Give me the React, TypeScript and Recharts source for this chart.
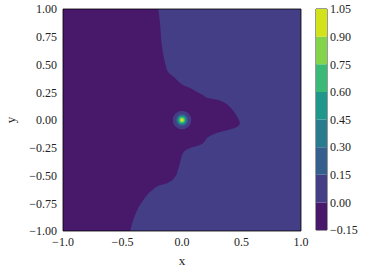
import {
    ComposedChart,
    BarChart,
    Area,
    Bar,
    Scatter,
    XAxis,
    YAxis,
    CartesianGrid,
    ReferenceArea,
    Label,
} from "recharts"

// contour levels and band colours (viridis, 8 bands)
const levels = [-0.15, 0, 0.15, 0.3, 0.45, 0.6, 0.75, 0.9, 1.05]
const bandColors = [
    "#48186a",
    "#433e85",
    "#355f8d",
    "#287c8e",
    "#1f988b",
    "#3aba76",
    "#84d44b",
    "#d2e21b",
]

// boundary between the (-0.15, 0) band (left) and the (0, 0.15) band (right)
const boundaryY = [
    1.0, 0.857, 0.677, 0.514, 0.433, 0.379, 0.343, 0.316, 0.289, 0.253, 0.226,
    0.199, 0.181, 0.153, 0.108, 0.063, 0.018, -0.027, -0.063, -0.09, -0.108,
    -0.135, -0.162, -0.19, -0.226, -0.253, -0.298, -0.388, -0.451, -0.514,
    -0.569, -0.587, -0.632, -0.722, -0.812, -0.903, -1.0,
]
const boundaryX = [
    -0.199, -0.184, -0.17, -0.142, -0.117, -0.059, -0.025, 0.008, 0.067, 0.126,
    0.176, 0.218, 0.302, 0.36, 0.411, 0.444, 0.469, 0.486, 0.461, 0.386, 0.319,
    0.251, 0.21, 0.193, 0.151, 0.067, 0.008, -0.017, -0.034, -0.059, -0.126,
    -0.184, -0.251, -0.327, -0.377, -0.411, -0.436,
]

// peak at the origin: outer radius (x units) of bands 1..7
const peakCenter = [{ x: 0, y: 0 }]
const peakRadii = [0.078, 0.05, 0.04, 0.033, 0.026, 0.019, 0.011]

const xTicks = [-1, -0.5, 0, 0.5, 1]
const yTicks = [-1, -0.75, -0.5, -0.25, 0, 0.25, 0.5, 0.75, 1]

const boundaryData = boundaryY.map((y, i) => ({ y, x: boundaryX[i] }))

const colorbarRow: Record<string, number | string> = { name: "cb" }
bandColors.forEach((_, i) => {
    const lo = levels[i]
    const hi = levels[i + 1]
    colorbarRow[`b${i}`] = lo < 0 ? lo - hi : hi - lo
})
const colorbarData = [colorbarRow]

const FONT = "Liberation Serif"
const tickStyle = { fontSize: 12, fontFamily: FONT, fill: "#222" }
const PLOT_W = 238
const PX_PER_UNIT = PLOT_W / 2

const fmt = (d: number) => (v: number) =>
    (v < 0 ? "\u2212" : "") + Math.abs(v).toFixed(d)

function Peak(props: any) {
    const { cx, cy } = props
    return (
        <g>
            {peakRadii.map((r, i) => (
                <circle
                    key={i}
                    cx={cx}
                    cy={cy}
                    r={r * PX_PER_UNIT}
                    fill={bandColors[i + 1]}
                />
            ))}
        </g>
    )
}

export default function App() {
    return (
        <div style={{ position: "absolute", left: 0, top: 0, width: 371, height: 273, background: "#fff" }}>
            <div style={{ position: "absolute", left: 0, top: 0 }}>
                <ComposedChart
                    width={371}
                    height={273}
                    layout="vertical"
                    data={boundaryData}
                    margin={{ top: 9, right: 70, bottom: 0, left: 0 }}
                >
                    <CartesianGrid
                        horizontal={false}
                        vertical={false}
                        fill={bandColors[1]}
                        fillOpacity={1}
                    />
                    <XAxis
                        type="number"
                        dataKey="x"
                        domain={[-1, 1]}
                        ticks={xTicks}
                        interval={0}
                        allowDataOverflow
                        height={42}
                        tickLine={false}
                        axisLine={false}
                        tickSize={4}
                        tickMargin={2}
                        tick={tickStyle}
                        tickFormatter={fmt(1)}
                    >
                        <Label
                            value="x"
                            position="insideBottom"
                            offset={8}
                            style={{ fontSize: 13, fontFamily: FONT, fill: "#222" }}
                        />
                    </XAxis>
                    <YAxis
                        type="number"
                        dataKey="y"
                        domain={[-1, 1]}
                        reversed
                        ticks={yTicks}
                        interval={0}
                        allowDataOverflow
                        width={63}
                        tickLine={false}
                        axisLine={false}
                        tickSize={4}
                        tickMargin={2}
                        tick={tickStyle}
                        tickFormatter={fmt(2)}
                    >
                        <Label
                            content={(p: any) => {
                                const vb = p.viewBox
                                const lx = vb.x + 14.5
                                const ly = vb.y + vb.height / 2
                                return (
                                    <text
                                        x={lx}
                                        y={ly}
                                        transform={`rotate(-90, ${lx}, ${ly})`}
                                        textAnchor="middle"
                                        style={{ fontSize: 13, fontFamily: FONT, fill: "#222" }}
                                    >
                                        y
                                    </text>
                                )
                            }}
                        />
                    </YAxis>
                    <Area
                        type="monotone"
                        dataKey="x"
                        baseValue="dataMin"
                        fill={bandColors[0]}
                        fillOpacity={1}
                        stroke="none"
                        dot={false}
                        activeDot={false}
                        isAnimationActive={false}
                    />
                    <Scatter
                        data={peakCenter}
                        shape={<Peak />}
                        isAnimationActive={false}
                    />
                    <ReferenceArea
                        x1={-1}
                        x2={1}
                        y1={-1}
                        y2={1}
                        fill="none"
                        stroke="#000"
                        strokeWidth={0.8}
                    />
                </ComposedChart>
            </div>
            <div style={{ position: "absolute", left: 300, top: 0 }}>
                <BarChart
                    width={71}
                    height={273}
                    data={colorbarData}
                    stackOffset="sign"
                    barCategoryGap={0}
                    margin={{ top: 9, right: 0, bottom: 43, left: 16 }}
                >
                    <XAxis dataKey="name" hide />
                    <YAxis
                        orientation="right"
                        type="number"
                        domain={[levels[0], levels[levels.length - 1]]}
                        ticks={levels}
                        interval={0}
                        allowDataOverflow
                        width={44}
                        tickLine={false}
                        axisLine={false}
                        tickSize={1}
                        tickMargin={2}
                        tick={tickStyle}
                        tickFormatter={fmt(2)}
                    />
                    {bandColors.map((c, i) => (
                        <Bar
                            key={i}
                            dataKey={`b${i}`}
                            stackId="cb"
                            fill={c}
                            isAnimationActive={false}
                        />
                    ))}
                    <ReferenceArea
                        y1={levels[0]}
                        y2={levels[levels.length - 1]}
                        fill="none"
                        stroke="#000"
                        strokeWidth={0.8}
                    />
                </BarChart>
            </div>
        </div>
    )
}
